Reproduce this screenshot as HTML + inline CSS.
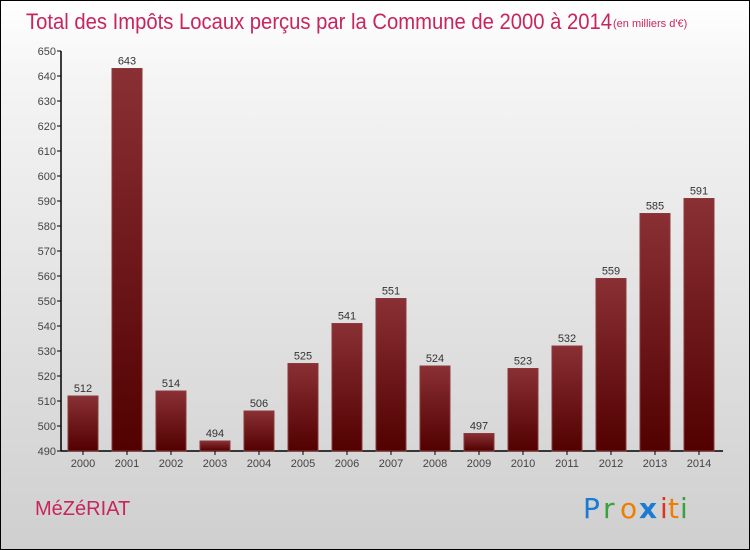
<!DOCTYPE html>
<html><head><meta charset="utf-8"><style>
body{margin:0}
#c{position:relative;width:748px;height:548px;border:1px solid #000;background:linear-gradient(#fff,#f4f4f4 15%,#cfcfcf);overflow:hidden;font-family:"Liberation Sans",sans-serif}
</style></head><body>
<div id="c">
<svg width="748" height="548" style="position:absolute;left:0;top:0">
<defs><linearGradient id="g" x1="0" y1="0" x2="0" y2="1"><stop offset="0" stop-color="#8a3035"/><stop offset="1" stop-color="#520000"/></linearGradient></defs>
<text x="25" y="28" font-size="22" fill="#c8255f" font-family="Liberation Sans,sans-serif" textLength="586" lengthAdjust="spacingAndGlyphs">Total des Impôts Locaux perçus par la Commune de 2000 à 2014</text>
<text x="612" y="26" font-size="11" fill="#c8255f">(en milliers d'€)</text>
<g id="plot"></g>
<text x="34" y="514" font-size="20" fill="#c8255f" font-family="Liberation Sans,sans-serif">MéZéRIAT</text>
<g font-size="28" font-family="DejaVu Sans,sans-serif">
<text x="582" y="517" fill="#1a7ad4">P</text><text x="602" y="517" fill="#3aa040">r</text><text x="619" y="517" fill="#f07d00">o</text><text x="638" y="517" fill="#1a7ad4" font-weight="bold">x</text><text x="659" y="517" fill="#e03020">i</text><text x="667" y="517" fill="#f07d00">t</text><text x="679" y="517" fill="#3aa040">i</text>
</g>
</svg>
</div>
<script>
const years=["2000","2001","2002","2003","2004","2005","2006","2007","2008","2009","2010","2011","2012","2013","2014"];
const values=[512,643,514,494,506,525,541,551,524,497,523,532,559,585,591];
const ticks=[490,500,510,520,530,540,550,560,570,580,590,600,610,620,630,640,650];
const ns="http://www.w3.org/2000/svg";
const g=document.getElementById("plot");
const y=v=>450-(v-490)*2.5;
const x=i=>66+i*44;
function el(t,a,txt){const e=document.createElementNS(ns,t);for(const k in a)e.setAttribute(k,a[k]);if(txt!=null)e.textContent=txt;g.appendChild(e);return e;}
let ax=el("line",{x1:60,y1:50,x2:60,y2:450,stroke:"#000","stroke-width":1.5});


let bx=el("line",{x1:60,y1:450,x2:722,y2:450,stroke:"#000","stroke-width":1.5});


ticks.forEach(t=>{
 el("line",{x1:56,y1:y(t),x2:60,y2:y(t),stroke:"#000"});
 let l=el("text",{x:55,y:y(t)+4,"font-size":11,"text-anchor":"end",fill:"#444"},t);
 
 
});
values.forEach((v,i)=>{
 let r=el("rect",{x:x(i)+1,y:y(v),width:30,height:450-y(v),fill:"url(#g)",stroke:"#8a3a3e","stroke-width":1});
 
 
 let l=el("text",{x:x(i)+16,y:y(v)-4,"font-size":11,"text-anchor":"middle",fill:"#333"},v);
 
 
 el("line",{x1:x(i)+16,y1:450,x2:x(i)+16,y2:454,stroke:"#000"});
 let xl=el("text",{x:x(i)+16,y:466,"font-size":11,"text-anchor":"middle",fill:"#444"},years[i]);
 
 
});
</script>
</body></html>
